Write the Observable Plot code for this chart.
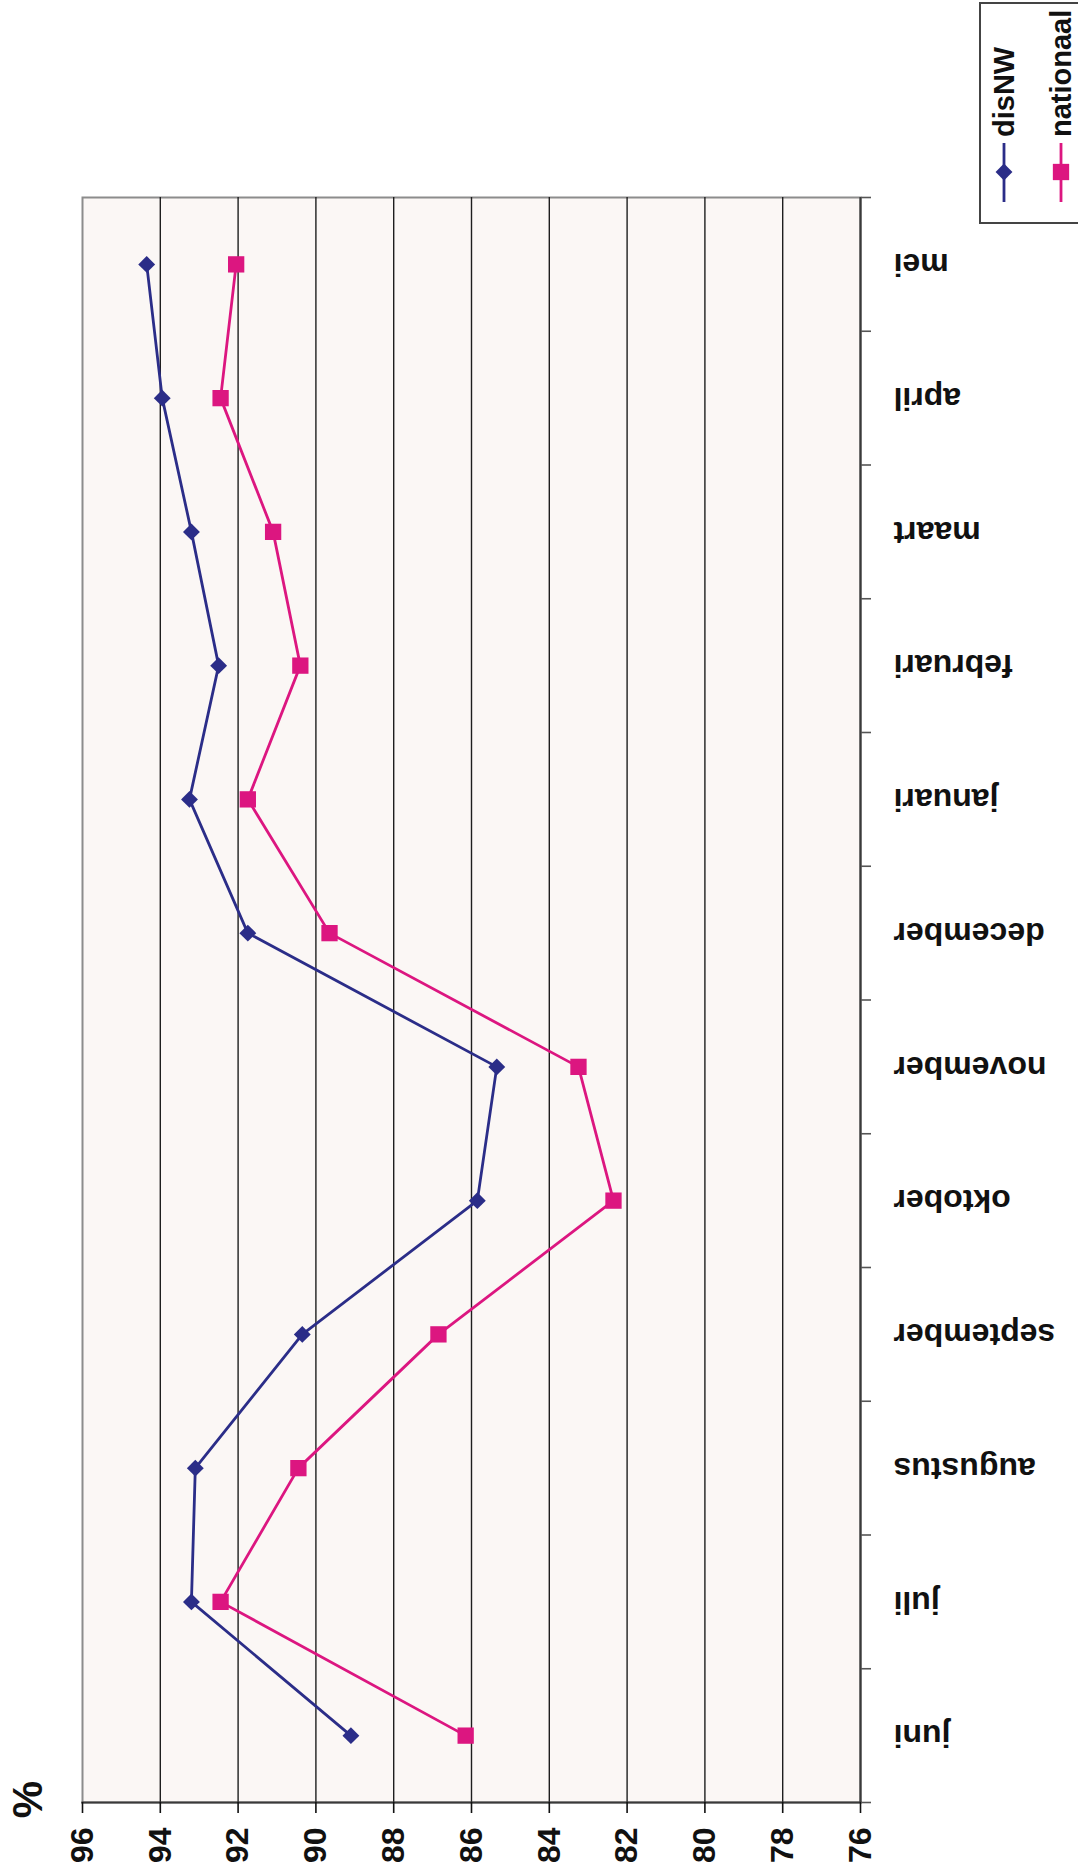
<!DOCTYPE html>
<html>
<head>
<meta charset="utf-8">
<script src="https://cdn.jsdelivr.net/npm/d3@7"></script>
<script src="https://cdn.jsdelivr.net/npm/@observablehq/plot@0.6"></script>
<style>
  html, body { margin: 0; padding: 0; background: #fff; }
  #wrap { position: relative; width: 1078px; height: 1875px; overflow: hidden; }
  #legend { position: absolute; left: 979px; top: 2px; }
</style>
</head>
<body>
<div id="wrap">
  <div id="chart"></div>
  <div id="legend"></div>
</div>
<script>
// ---- data ----
const months = ["juni", "juli", "augustus", "september", "oktober", "november",
                "december", "januari", "februari", "maart", "april", "mei"];
const disNW = [89.1, 93.2, 93.1, 90.35, 85.85, 85.35, 91.75, 93.25, 92.5, 93.2, 93.95, 94.35];
const nationaal = [86.15, 92.45, 90.45, 86.85, 82.35, 83.25, 89.65, 91.75, 90.4, 91.1, 92.45, 92.05];
const seriesNames = ["disNW", "nationaal"];
const seriesColors = ["#2b2d88", "#dc1680"];
const seriesSymbols = ["diamond2", "square"];
const valueTicks = [96, 94, 92, 90, 88, 86, 84, 82, 80, 78, 76];
const valueUnit = "%";

const seriesValues = [disNW, nationaal];
const rows = seriesNames.flatMap((s, k) =>
  months.map((m, i) => ({series: s, month: m, idx: i, value: seriesValues[k][i]})));

const FONT = "'Liberation Sans', Arial, Helvetica, sans-serif";
const bandEdges = d3.range(-0.5, months.length, 1);

const chart = Plot.plot({
  width: 1078,
  height: 1875,
  marginLeft: 82,
  marginRight: 218,
  marginTop: 197,
  marginBottom: 73,
  style: {fontFamily: FONT, fontWeight: "bold", fontSize: "32px", color: "#111", background: "#fff"},
  x: {domain: [96, 76]},
  y: {domain: [-0.5, months.length - 0.5]},
  color: {domain: seriesNames, range: seriesColors},
  symbol: {domain: seriesNames, range: seriesSymbols},
  marks: [
    Plot.frame({fill: "#fbf7f5", stroke: "#8c8c8c", strokeWidth: 2}),
    Plot.gridX(valueTicks.filter(v => v !== 96 && v !== 76), {stroke: "#1e1e1e", strokeOpacity: 1, strokeWidth: 1.4}),
    Plot.ruleX([76], {stroke: "#3a3a3a", strokeWidth: 2.2}),
    Plot.frame({anchor: "bottom", stroke: "#3a3a3a", strokeWidth: 2.2}),
    Plot.axisX(valueTicks, {
      anchor: "bottom", tickSize: 11, tickPadding: 14, tickRotate: -90,
      tickFormat: d => String(d), label: null,
      fontSize: 32, fontWeight: "bold", color: "#111", strokeWidth: 1.6
    }),
    Plot.axisY(bandEdges, {
      anchor: "right", tickSize: 10, tickFormat: () => "", label: null,
      color: "#555", strokeWidth: 1.6
    }),
    Plot.text(months, {
      y: (d, i) => i, text: d => d, frameAnchor: "right", dx: 33,
      rotate: 180, textAnchor: "end", lineAnchor: "middle",
      fontSize: 32, fontWeight: "bold", fill: "#111"
    }),
    Plot.text([valueUnit], {
      frameAnchor: "bottom-left", dx: -54, dy: -3, rotate: -90,
      textAnchor: "middle", lineAnchor: "middle",
      fontSize: 42, fontWeight: "bold", fill: "#111"
    }),
    Plot.line(rows, {x: "value", y: "idx", z: "series", stroke: "series", strokeWidth: 2.8}),
    Plot.dot(rows.filter(d => d.series === "disNW"), {x: "value", y: "idx", symbol: "series", fill: "series", r: 7.6, stroke: "none"}),
    Plot.dot(rows.filter(d => d.series === "nationaal"), {x: "value", y: "idx", symbol: "series", fill: "series", r: 9.2, stroke: "none"})
  ]
});
document.getElementById("chart").appendChild(chart);

// ---- legend (rotated like the chart) ----
const ns = "http://www.w3.org/2000/svg";
const lg = document.createElementNS(ns, "svg");
lg.setAttribute("width", 110);
lg.setAttribute("height", 223);
lg.style.fontFamily = FONT;
const box = document.createElementNS(ns, "rect");
box.setAttribute("x", 1); box.setAttribute("y", 1);
box.setAttribute("width", 130); box.setAttribute("height", 220);
box.setAttribute("fill", "#fff"); box.setAttribute("stroke", "#444"); box.setAttribute("stroke-width", 2);
lg.appendChild(box);
seriesNames.forEach((name, k) => {
  const cx = 25 + k * 57;
  const line = document.createElementNS(ns, "line");
  line.setAttribute("x1", cx); line.setAttribute("x2", cx);
  line.setAttribute("y1", 141); line.setAttribute("y2", 200);
  line.setAttribute("stroke", seriesColors[k]); line.setAttribute("stroke-width", 2.8);
  lg.appendChild(line);
  const sym = document.createElementNS(ns, "path");
  const sz = k === 0 ? 7.6 : 9.2;
  const s = seriesSymbols[k] === "square" ? d3.symbolSquare : d3.symbolDiamond2;
  sym.setAttribute("d", d3.symbol(s, sz * sz * Math.PI)());
  sym.setAttribute("transform", `translate(${cx},170)`);
  sym.setAttribute("fill", seriesColors[k]);
  lg.appendChild(sym);
  const t = document.createElementNS(ns, "text");
  t.setAttribute("transform", `translate(${cx},135) rotate(-90)`);
  t.setAttribute("dy", "0.36em");
  t.setAttribute("font-size", 29);
  t.setAttribute("font-weight", "bold");
  t.setAttribute("fill", "#111");
  t.textContent = name;
  lg.appendChild(t);
});
document.getElementById("legend").appendChild(lg);
</script>
</body>
</html>
